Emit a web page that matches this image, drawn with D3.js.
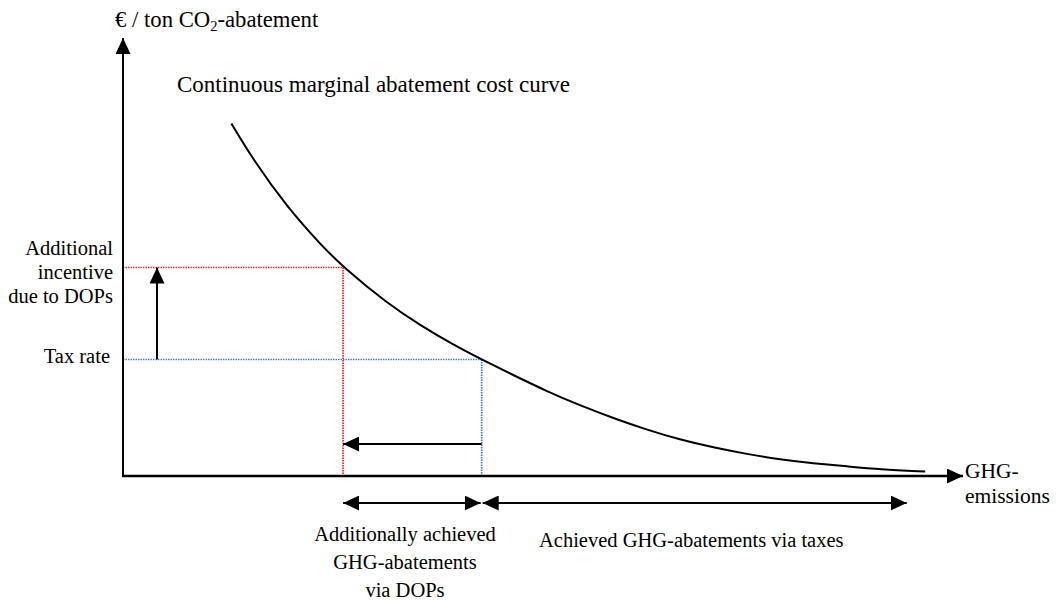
<!DOCTYPE html>
<html>
<head>
<meta charset="utf-8">
<script src="https://cdn.jsdelivr.net/npm/d3@7"></script>
<style>
	body { margin: 0; background: #fff; }
	text { font-family: "Liberation Serif", "Times New Roman", serif; fill: #000; }
</style>
</head>
<body>
<div id="chart"></div>
<script>
// curve points (emissions, cost per ton)
var curveEmissions = [12.9, 15.5, 19.5, 23.5, 26.2, 31.4, 35.4, 39.3, 42.7, 46.5, 50.4, 54.4, 58.4, 62.3, 66.3, 70.3, 74.3, 78.2, 82.2, 86.2, 90.1, 95.5];
var curveCosts = [80.5, 72.2, 61.5, 52.9, 47.7, 39.5, 34.4, 30.0, 26.6, 23.0, 19.4, 16.1, 13.2, 10.6, 8.3, 6.5, 5.0, 3.8, 2.9, 2.2, 1.5, 1.0];

// price levels and the emission levels they lead to
var levelNames = ["tax", "dop"];
var levelCosts = [26.6, 47.6];
var levelEmissions = [42.7, 26.2];
var levelColors = ["#4272ff", "#ff2020"];

var taxArrowEnd = 93.3;
var incentiveArrowX = 4.05;
var shiftArrowY = 7.3;

var leftLabels = ["Additional", "incentive", "due to DOPs"];
var dopLabels = ["Additionally achieved", "GHG-abatements", "via DOPs"];
var taxLabel = "Achieved GHG-abatements via taxes";
var xLabels = ["GHG-", "emissions"];
var curveLabel = "Continuous marginal abatement cost curve";

var width = 1056, height = 601;

var svg = d3.select("#chart").append("svg")
	.attr("width", width)
	.attr("height", height);

var x = d3.scaleLinear().domain([0, 100]).range([123, 963]);
var y = d3.scaleLinear().domain([0, 100]).range([476, 38]);

// arrow head
var defs = svg.append("defs");
defs.append("marker")
	.attr("id", "head")
	.attr("markerUnits", "userSpaceOnUse")
	.attr("markerWidth", 16)
	.attr("markerHeight", 15)
	.attr("refX", 16)
	.attr("refY", 7.5)
	.attr("orient", "auto-start-reverse")
	.append("path")
	.attr("d", "M0,0L16,7.5L0,15Z")
	.attr("fill", "#000");

// dotted guide lines
levelNames.forEach(function(n, i) {
	var g = svg.append("g").attr("class", "guide-" + n);
	g.append("line")
		.attr("x1", x(0)).attr("x2", x(levelEmissions[i]))
		.attr("y1", y(levelCosts[i])).attr("y2", y(levelCosts[i]));
	g.append("line")
		.attr("x1", x(levelEmissions[i])).attr("x2", x(levelEmissions[i]))
		.attr("y1", y(levelCosts[i])).attr("y2", y(0));
	g.selectAll("line")
		.attr("stroke", levelColors[i])
		.attr("stroke-width", 1.7)
		.attr("stroke-dasharray", "1.4,1.1");
});

// axes
svg.append("line")
	.attr("x1", x(0)).attr("y1", y(0) + 1)
	.attr("x2", x(0)).attr("y2", y(100))
	.attr("stroke", "#000").attr("stroke-width", 2)
	.attr("marker-end", "url(#head)");
svg.append("line")
	.attr("x1", x(0) - 1).attr("y1", y(0))
	.attr("x2", x(100)).attr("y2", y(0))
	.attr("stroke", "#000").attr("stroke-width", 2.5)
	.attr("marker-end", "url(#head)");

// cost curve
var line = d3.line()
	.x(function(d, i) { return x(d); })
	.y(function(d, i) { return y(curveCosts[i]); })
	.curve(d3.curveBasis);

svg.append("path")
	.datum(curveEmissions)
	.attr("d", line)
	.attr("fill", "none")
	.attr("stroke", "#000")
	.attr("stroke-width", 2);

// incentive arrow (up), shift arrow (left)
svg.append("line")
	.attr("x1", x(incentiveArrowX)).attr("x2", x(incentiveArrowX))
	.attr("y1", y(levelCosts[0])).attr("y2", y(levelCosts[1]))
	.attr("stroke", "#000").attr("stroke-width", 2)
	.attr("marker-end", "url(#head)");
svg.append("line")
	.attr("x1", x(levelEmissions[0])).attr("x2", x(levelEmissions[1]))
	.attr("y1", y(shiftArrowY)).attr("y2", y(shiftArrowY))
	.attr("stroke", "#000").attr("stroke-width", 2)
	.attr("marker-end", "url(#head)");

// double arrows below the axis
var rangeY = y(0) + 27;
svg.append("line")
	.attr("x1", x(levelEmissions[1])).attr("x2", x(levelEmissions[0]) - 1)
	.attr("y1", rangeY).attr("y2", rangeY)
	.attr("stroke", "#000").attr("stroke-width", 2)
	.attr("marker-start", "url(#head)")
	.attr("marker-end", "url(#head)");
svg.append("line")
	.attr("x1", x(levelEmissions[0]) + 1).attr("x2", x(taxArrowEnd))
	.attr("y1", rangeY).attr("y2", rangeY)
	.attr("stroke", "#000").attr("stroke-width", 2)
	.attr("marker-start", "url(#head)")
	.attr("marker-end", "url(#head)");

// texts
var yTitle = svg.append("text")
	.attr("x", 115).attr("y", 27)
	.style("font-size", "22.7px");
yTitle.append("tspan").text("€ / ton CO");
yTitle.append("tspan").attr("dy", 4).style("font-size", "14.5px").text("2");
yTitle.append("tspan").attr("dy", -4).text("-abatement");

svg.append("text")
	.attr("x", 177).attr("y", 92)
	.style("font-size", "23px")
	.text(curveLabel);

svg.selectAll(".left-label")
	.data(leftLabels)
	.enter().append("text")
	.attr("class", "left-label")
	.attr("x", 113)
	.attr("y", function(d, i) { return 255 + i * 24; })
	.attr("text-anchor", "end")
	.style("font-size", "20.5px")
	.text(function(d) { return d; });

svg.append("text")
	.attr("x", 110).attr("y", y(levelCosts[0]) + 4)
	.attr("text-anchor", "end")
	.style("font-size", "20.5px")
	.text("Tax rate");

svg.selectAll(".x-label")
	.data(xLabels)
	.enter().append("text")
	.attr("class", "x-label")
	.attr("x", 965)
	.attr("y", function(d, i) { return 478 + i * 25; })
	.style("font-size", "21.5px")
	.text(function(d) { return d; });

svg.selectAll(".dop-label")
	.data(dopLabels)
	.enter().append("text")
	.attr("class", "dop-label")
	.attr("x", 405)
	.attr("y", function(d, i) { return 541 + i * 28; })
	.attr("text-anchor", "middle")
	.style("font-size", "20.5px")
	.text(function(d) { return d; });

svg.append("text")
	.attr("x", 539).attr("y", 547)
	.style("font-size", "20.5px")
	.text(taxLabel);
</script>
</body>
</html>
